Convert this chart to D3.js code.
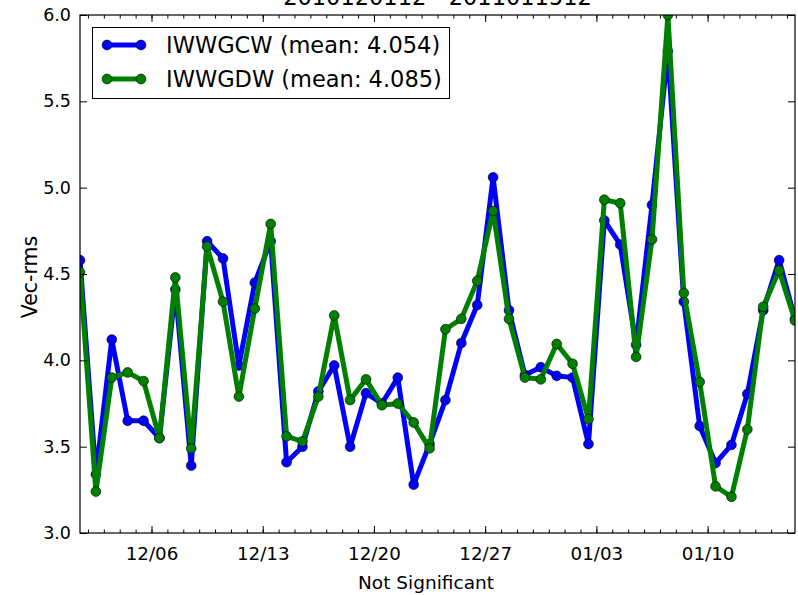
<!DOCTYPE html>
<html>
<head>
<meta charset="utf-8">
<script src="https://cdn.jsdelivr.net/npm/d3@7"></script>
<style>
  html, body { margin: 0; padding: 0; background: #fff; }
  svg { display: block; }
  text { font-family: "DejaVu Sans", sans-serif; fill: #000; }
</style>
</head>
<body>
<svg id="chart" width="798" height="595"></svg>
<script>
const titleText = "2010120112 - 2011011512";
const yLabel = "Vec-rms";
const xLabel = "Not Significant";

const dates = [
  "2010-12-01T12","2010-12-02T12","2010-12-03T12","2010-12-04T12","2010-12-05T12",
  "2010-12-06T12","2010-12-07T12","2010-12-08T12","2010-12-09T12","2010-12-10T12",
  "2010-12-11T12","2010-12-12T12","2010-12-13T12","2010-12-14T12","2010-12-15T12",
  "2010-12-16T12","2010-12-17T12","2010-12-18T12","2010-12-19T12","2010-12-20T12",
  "2010-12-21T12","2010-12-22T12","2010-12-23T12","2010-12-24T12","2010-12-25T12",
  "2010-12-26T12","2010-12-27T12","2010-12-28T12","2010-12-29T12","2010-12-30T12",
  "2010-12-31T12","2011-01-01T12","2011-01-02T12","2011-01-03T12","2011-01-04T12",
  "2011-01-05T12","2011-01-06T12","2011-01-07T12","2011-01-08T12","2011-01-09T12",
  "2011-01-10T12","2011-01-11T12","2011-01-12T12","2011-01-13T12","2011-01-14T12",
  "2011-01-15T12"
];

const seriesNames = ["IWWGCW (mean: 4.054)", "IWWGDW (mean: 4.085)"];

const iwwgcw = [
  4.58, 3.34, 4.12, 3.65, 3.65, 3.55, 4.41, 3.39, 4.69, 4.59,
  3.97, 4.45, 4.69, 3.41, 3.50, 3.82, 3.97, 3.50, 3.81, 3.75,
  3.90, 3.28, 3.515, 3.77, 4.10, 4.32, 5.06, 4.29, 3.915, 3.96,
  3.91, 3.90, 3.515, 4.81, 4.67, 4.09, 4.90, 5.79, 4.34, 3.62,
  3.405, 3.51, 3.805, 4.29, 4.58, 4.24
];

const iwwgdw = [
  4.51, 3.24, 3.90, 3.93, 3.88, 3.55, 4.48, 3.49, 4.66, 4.34,
  3.79, 4.30, 4.79, 3.56, 3.53, 3.79, 4.26, 3.77, 3.89, 3.74,
  3.75, 3.64, 3.49, 4.18, 4.24, 4.46, 4.865, 4.24, 3.90, 3.89,
  4.095, 3.98, 3.66, 4.93, 4.91, 4.02, 4.70, 6.00, 4.39, 3.875,
  3.27, 3.21, 3.60, 4.31, 4.52, 4.23
];

const yTicks = [3.0, 3.5, 4.0, 4.5, 5.0, 5.5, 6.0];
const xTickLabels = ["12/06", "12/13", "12/20", "12/27", "01/03", "01/10"];
const colors = ["#0000ff", "#008000"];

// ---------- layout ----------
const W = 798, H = 595;
const m = { left: 80, right: 3, top: 15, bottom: 62 };
const pw = W - m.left - m.right;   // 715
const ph = H - m.top - m.bottom;   // 518

const parseT = d3.utcParse("%Y-%m-%dT%H");
const xDates = dates.map(parseT);

const svg = d3.select("#chart");
svg.append("rect").attr("width", W).attr("height", H).attr("fill", "#fff");

const x = d3.scaleUtc()
  .domain([xDates[0], xDates[xDates.length - 1]])
  .range([m.left, m.left + pw]);
const y = d3.scaleLinear().domain([3, 6]).range([m.top + ph, m.top]);

const parseDay = d3.utcParse("%Y-%m-%d");
const majorTicks = xTickLabels.map(s => {
  const [mm, dd] = s.split("/");
  const yr = mm === "12" ? "2010" : "2011";
  return parseDay(`${yr}-${mm}-${dd}`);
});
const minorTicks = d3.utcDay.range(d3.utcDay.ceil(x.domain()[0]), x.domain()[1]);

// clip
svg.append("defs").append("clipPath").attr("id", "clip")
  .append("rect").attr("x", m.left).attr("y", m.top).attr("width", pw).attr("height", ph);

// ---------- series ----------
const series = [iwwgcw, iwwgdw];
const plot = svg.append("g").attr("clip-path", "url(#clip)");
const line = d3.line().x((d, i) => x(xDates[i])).y(d => y(d));

series.forEach((vals, si) => {
  const g = plot.append("g");
  g.append("path")
    .datum(vals)
    .attr("d", line)
    .attr("fill", "none")
    .attr("stroke", colors[si])
    .attr("stroke-width", 5)
    .attr("stroke-linejoin", "round")
    .attr("stroke-linecap", "butt");
  g.selectAll("circle")
    .data(vals)
    .join("circle")
    .attr("cx", (d, i) => x(xDates[i]))
    .attr("cy", d => y(d))
    .attr("r", 4.9)
    .attr("fill", colors[si])
    .attr("stroke", "#000")
    .attr("stroke-width", 0.6);
});

// ---------- axes (inward ticks, mirrored) ----------
const axB = d3.axisBottom(x).tickValues(majorTicks).tickFormat(d3.utcFormat("%m/%d"))
  .tickSizeInner(-7).tickSizeOuter(0).tickPadding(14);
const gB = svg.append("g").attr("transform", `translate(0,${m.top + ph})`).call(axB);
gB.select(".domain").remove();
gB.selectAll("text").attr("font-size", 18.3).attr("font-family", "DejaVu Sans");

const axBm = d3.axisBottom(x).tickValues(minorTicks).tickFormat("").tickSizeInner(-3.5).tickSizeOuter(0);
const gBm = svg.append("g").attr("transform", `translate(0,${m.top + ph})`).call(axBm);
gBm.select(".domain").remove();

const axT = d3.axisTop(x).tickValues(majorTicks).tickFormat("").tickSizeInner(-7).tickSizeOuter(0);
const gT = svg.append("g").attr("transform", `translate(0,${m.top})`).call(axT);
gT.select(".domain").remove();
const axTm = d3.axisTop(x).tickValues(minorTicks).tickFormat("").tickSizeInner(-3.5).tickSizeOuter(0);
const gTm = svg.append("g").attr("transform", `translate(0,${m.top})`).call(axTm);
gTm.select(".domain").remove();

const axL = d3.axisLeft(y).tickValues(yTicks).tickFormat(d3.format(".1f"))
  .tickSizeInner(-7).tickSizeOuter(0).tickPadding(9);
const gL = svg.append("g").attr("transform", `translate(${m.left},0)`).call(axL);
gL.select(".domain").remove();
gL.selectAll("text").attr("font-size", 17.5).attr("font-family", "DejaVu Sans");

const axR = d3.axisRight(y).tickValues(yTicks).tickFormat("").tickSizeInner(-7).tickSizeOuter(0);
const gR = svg.append("g").attr("transform", `translate(${m.left + pw},0)`).call(axR);
gR.select(".domain").remove();

svg.selectAll(".tick line").attr("stroke", "#000").attr("stroke-width", 1);

// frame
svg.append("rect")
  .attr("x", m.left).attr("y", m.top).attr("width", pw).attr("height", ph)
  .attr("fill", "none").attr("stroke", "#000").attr("stroke-width", 1.2);

// ---------- labels ----------
svg.append("text").attr("x", m.left + pw / 2).attr("y", 5)
  .attr("text-anchor", "middle").attr("font-size", 22.5).text(titleText);

svg.append("text").attr("x", 426).attr("y", 589)
  .attr("text-anchor", "middle").attr("font-size", 18.5).text(xLabel);

svg.append("text")
  .attr("transform", `translate(37,${m.top + ph / 2 + 3}) rotate(-90)`)
  .attr("text-anchor", "middle").attr("font-size", 20.5).text(yLabel);

// ---------- legend ----------
const lg = svg.append("g");
lg.append("rect").attr("x", 92.5).attr("y", 27.5).attr("width", 357).attr("height", 71)
  .attr("fill", "#fff").attr("stroke", "#000").attr("stroke-width", 1);
const rowY = [45, 79];
seriesNames.forEach((name, i) => {
  const r = lg.append("g");
  r.append("line").attr("x1", 107).attr("x2", 141).attr("y1", rowY[i]).attr("y2", rowY[i])
    .attr("stroke", colors[i]).attr("stroke-width", 5);
  [107, 141].forEach(cx => {
    r.append("circle").attr("cx", cx).attr("cy", rowY[i]).attr("r", 4.9)
      .attr("fill", colors[i]).attr("stroke", "#000").attr("stroke-width", 0.6);
  });
  r.append("text").attr("x", 166).attr("y", rowY[i] + 8)
    .attr("font-size", 22.5).text(name);
});
</script>
</body>
</html>
